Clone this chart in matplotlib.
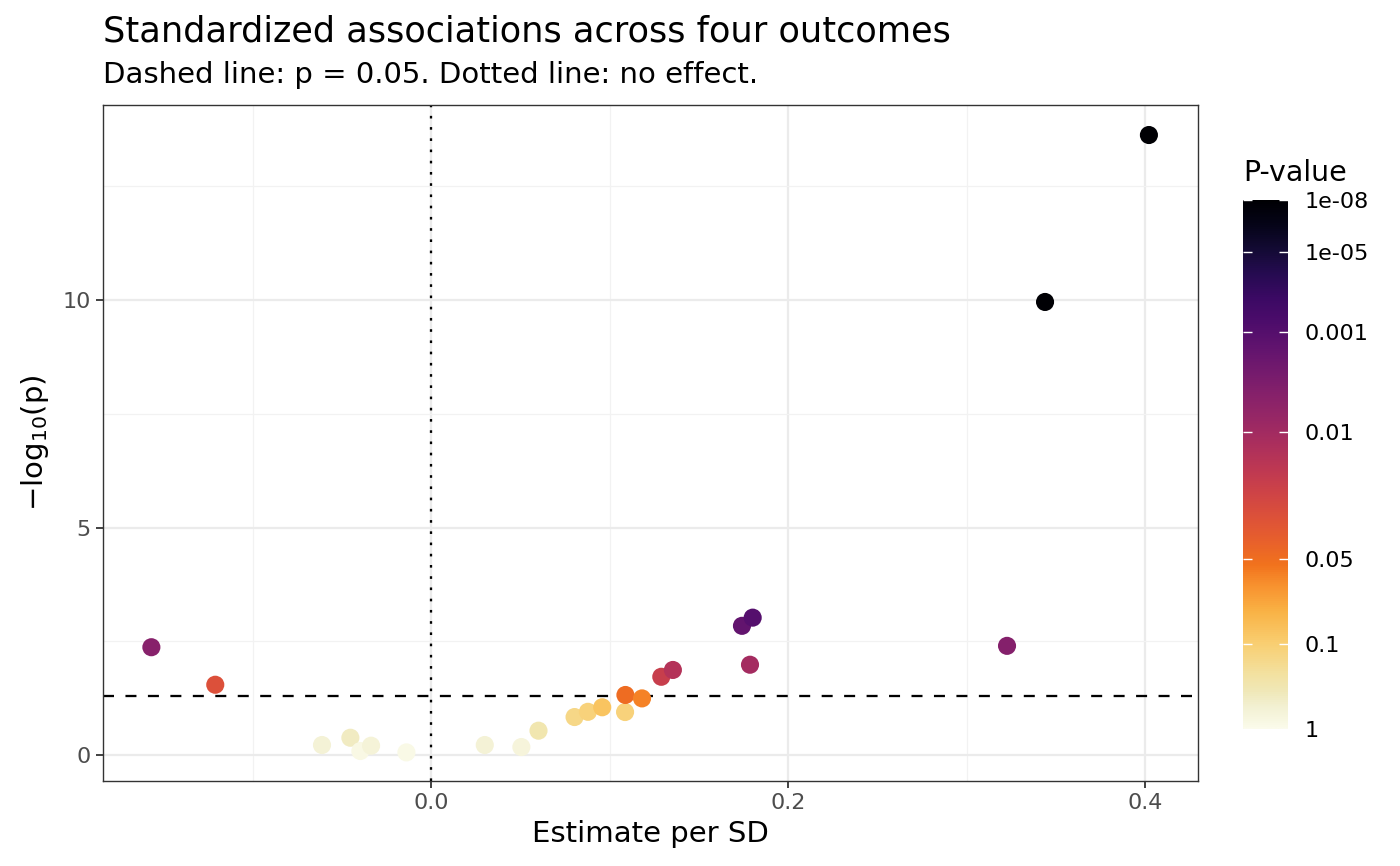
import numpy as np
import matplotlib
matplotlib.use("Agg")
import matplotlib.pyplot as plt
from matplotlib.colors import LinearSegmentedColormap

plt.rcParams['font.family'] = ['DejaVu Sans']
plt.rcParams['mathtext.fontset'] = 'dejavusans'

# estimate per SD and -log10(p)
estimate = [-0.1567, -0.1209, -0.0611, -0.0452, -0.0396, -0.0336, -0.0138,
            0.0301, 0.0506, 0.0602, 0.0804, 0.0879, 0.0959, 0.1087,
            0.1089, 0.1182, 0.1290, 0.1355, 0.1742, 0.1802, 0.1787,
            0.3227, 0.3440, 0.4022]
neglog_p = [2.37, 1.545, 0.22, 0.38, 0.088, 0.205, 0.058,
            0.22, 0.176, 0.535, 0.835, 0.95, 1.05, 0.945,
            1.32, 1.245, 1.72, 1.87, 2.84, 3.02, 1.985,
            2.40, 9.96, 13.63]

# colour legend breaks
legend_labels = ['1', '0.1', '0.05', '0.01', '0.001', '1e-05', '1e-08']
legend_lp = [0, 1, 1.301, 2, 3, 5, 8]
legend_pos = [0.0, 0.160, 0.321, 0.561, 0.751, 0.902, 1.0]

# palette: pale cream at p=1, inferno toward black
inf = plt.get_cmap('inferno')
stops = [(0.00, '#fbfbeb'), (0.04, '#f3f1d3'), (0.07, '#f0e8b8'),
         (0.10, '#f3e2a2'), (0.16, '#f9cf72'), (0.22, '#fab346'),
         (0.27, '#f8922f')]
for p in np.linspace(0.31, 1.0, 16):
    stops.append((p, inf(1 - p)))
cmap = LinearSegmentedColormap.from_list('pval', stops)

pos = np.interp(neglog_p, legend_lp, legend_pos)
colors = cmap(pos)

fig = plt.figure(figsize=(14, 8.66), dpi=100)
W, H = 1400, 866
ax = fig.add_axes([103 / W, 1 - 781 / H, (1198 - 103) / W, (781 - 105) / H])

ax.set_xlim(-0.1838, 0.4297)
ax.set_ylim(-0.571, 14.29)

ax.set_xticks([0.0, 0.2, 0.4])
ax.set_xticklabels(['0.0', '0.2', '0.4'])
ax.set_xticks([-0.1, 0.1, 0.3], minor=True)
ax.set_yticks([0, 5, 10])
ax.set_yticks([2.5, 7.5, 12.5], minor=True)
ax.grid(which='major', color='#ebebeb', linewidth=1.6)
ax.grid(which='minor', color='#f2f2f2', linewidth=0.9)
ax.set_axisbelow(True)
ax.tick_params(which='major', length=4.8, width=1.3, color='#333333',
               labelcolor='#4d4d4d', labelsize=16, pad=4)
ax.tick_params(which='minor', length=0)
for s in ax.spines.values():
    s.set_color('#333333')
    s.set_linewidth(1.0)

ax.axhline(-np.log10(0.05), color='black', linestyle=(0, (4.8, 5)), linewidth=1.65, zorder=2)
ax.axvline(0, color='black', linestyle=(0, (1.15, 3.75)), linewidth=1.65, zorder=2)

ax.scatter(estimate, neglog_p, c=colors, s=170, linewidths=0, zorder=3)

ax.set_xlabel('Estimate per SD', fontsize=21, labelpad=5)
ax.set_ylabel(r'$-\mathrm{log}_{10}(\mathrm{p})$', fontsize=21, labelpad=8)

fig.text(103 / W, 1 - 42 / H, 'Standardized associations across four outcomes',
         fontsize=25.3, ha='left', va='baseline')
fig.text(103 / W, 1 - 83 / H, 'Dashed line: p = 0.05. Dotted line: no effect.',
         fontsize=21, ha='left', va='baseline')

# colour bar
cax = fig.add_axes([1243 / W, 1 - 729 / H, 45 / W, 529 / H])
grad = np.linspace(0, 1, 512).reshape(-1, 1)
cax.imshow(grad, extent=[0, 1, 0, 1], origin='lower', aspect='auto', cmap=cmap)
cax.set_xlim(0, 1)
cax.set_ylim(0, 1)
cax.set_xticks([])
cax.set_yticks(legend_pos)
cax.set_yticklabels(legend_labels)
cax.tick_params(axis='y', left=True, right=True, labelleft=False, labelright=True,
                direction='in', length=6.5, width=1.0, color='white',
                labelsize=16, pad=12)
for s in cax.spines.values():
    s.set_visible(False)
fig.text(1243 / W, 1 - 181 / H, 'P-value', fontsize=20.5, ha='left', va='baseline')

fig.savefig('out.png', dpi=100)
